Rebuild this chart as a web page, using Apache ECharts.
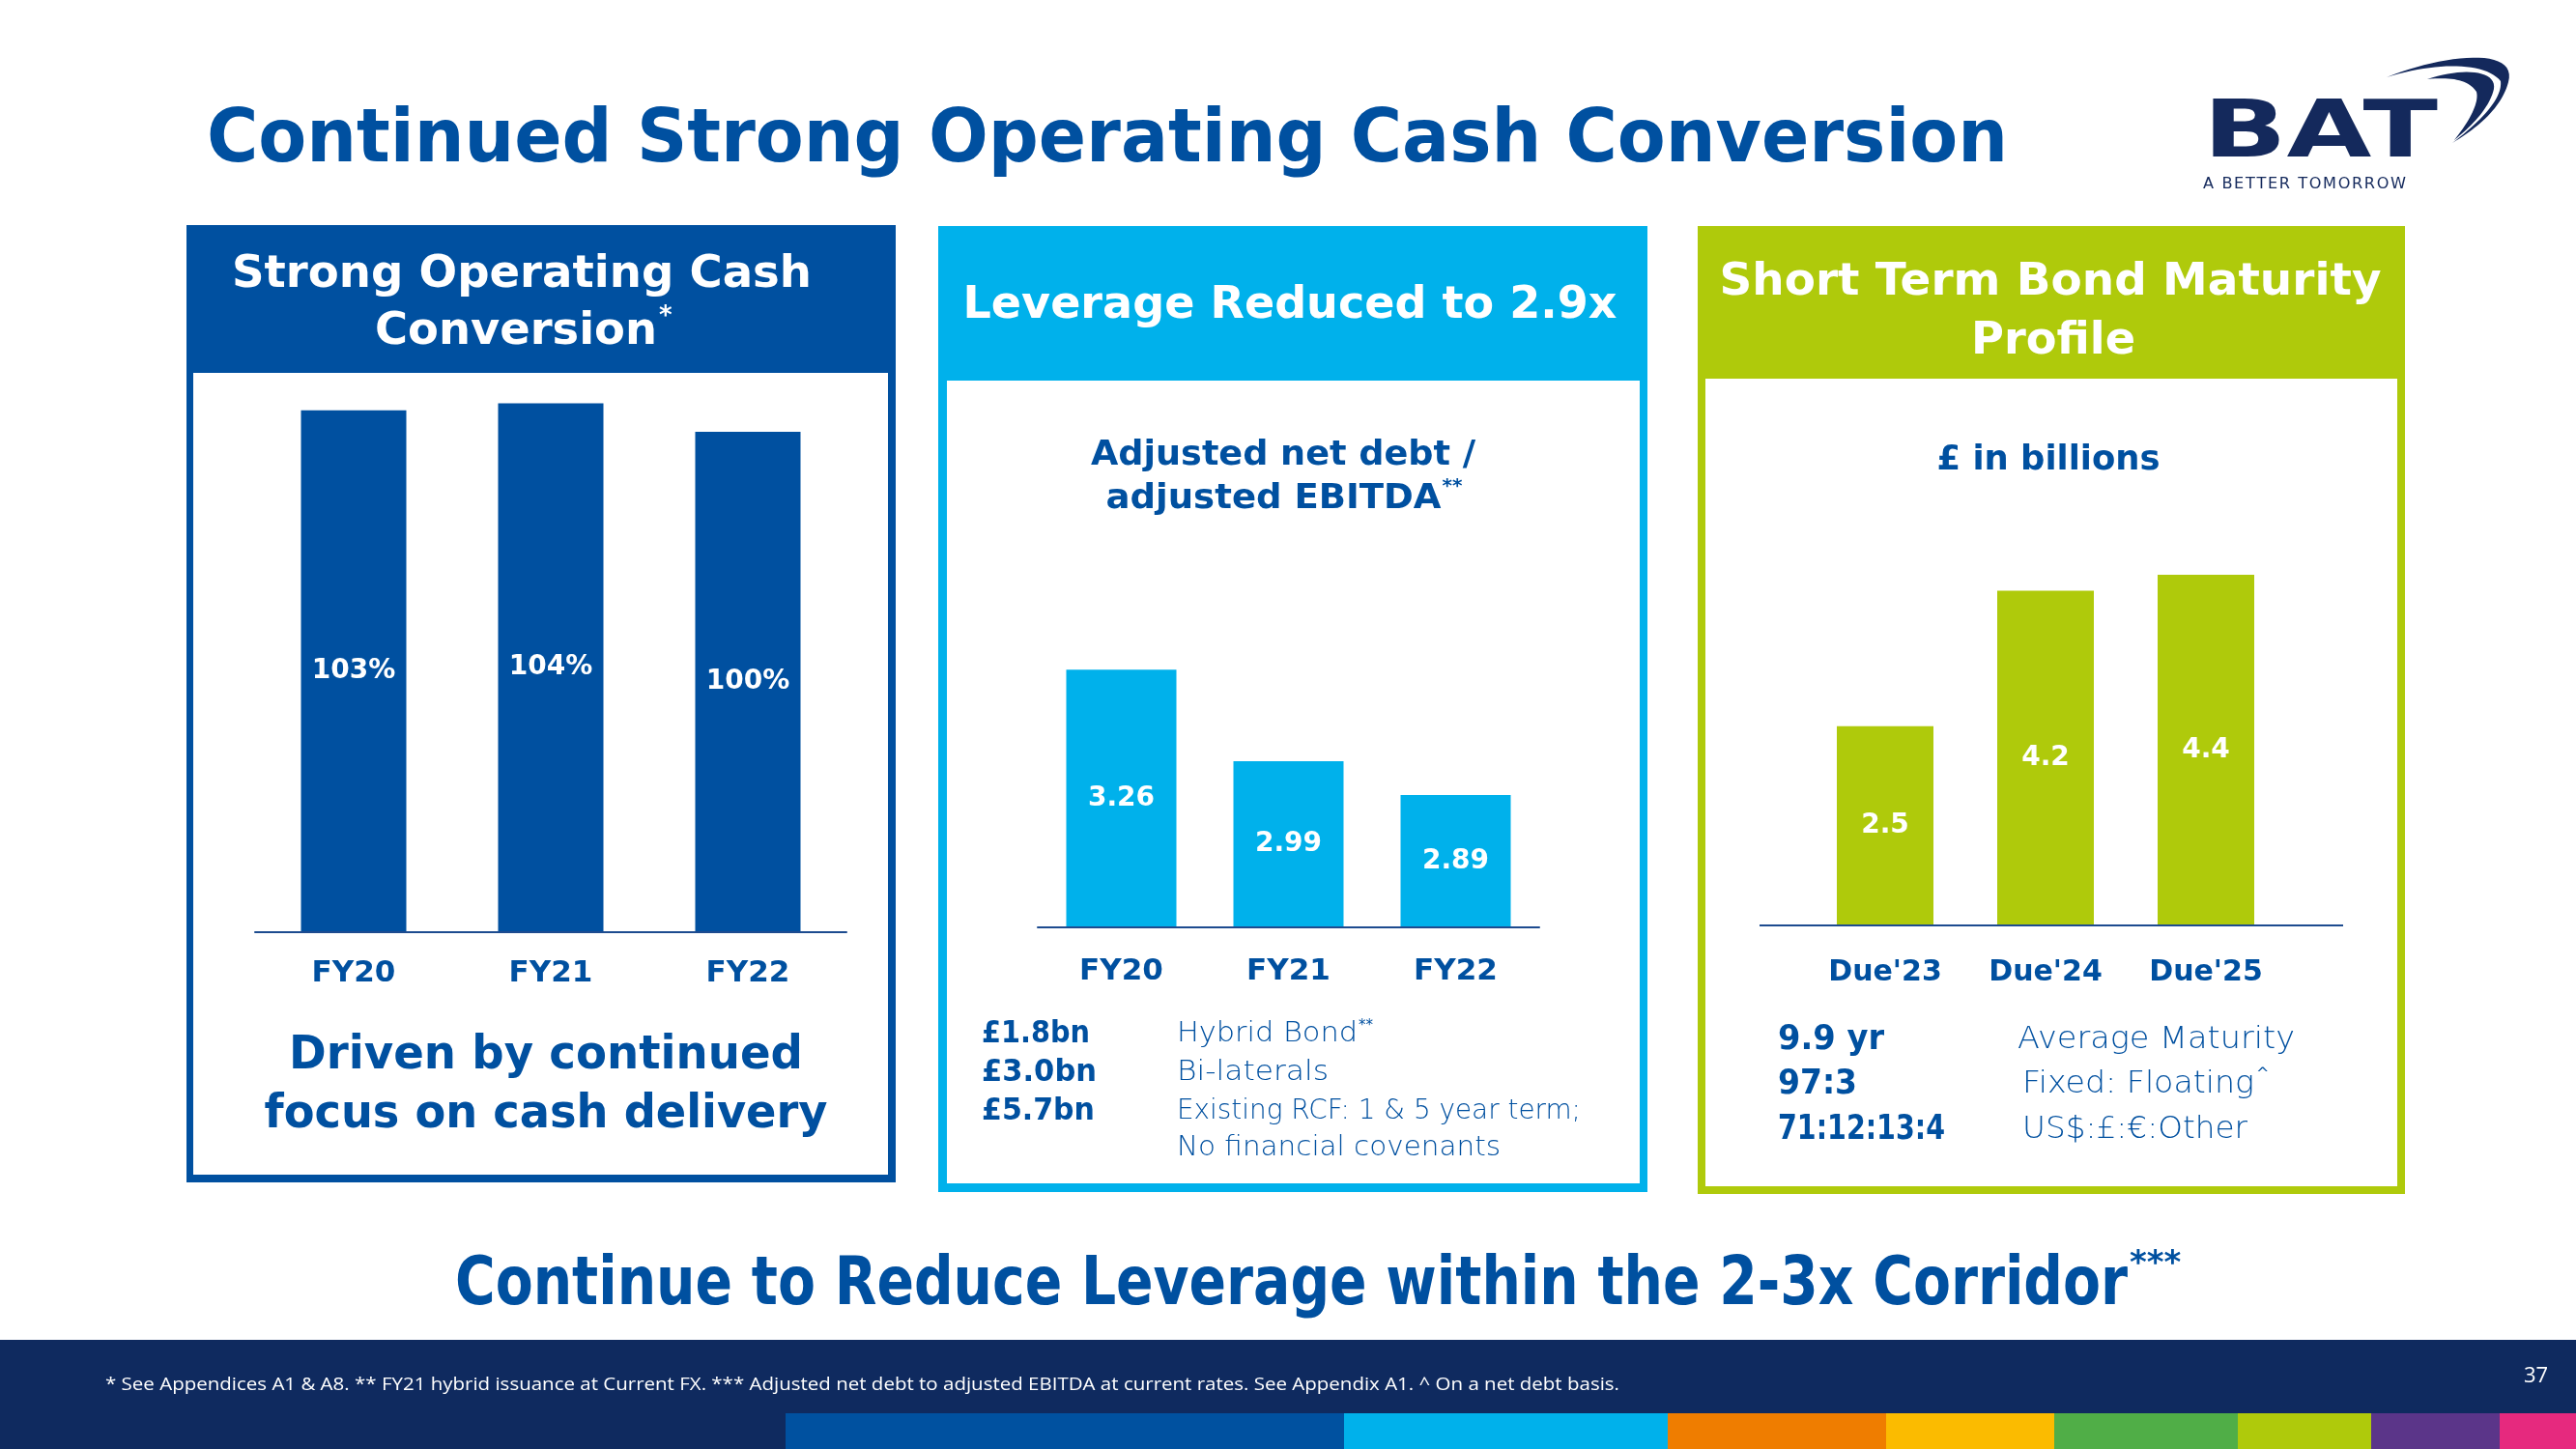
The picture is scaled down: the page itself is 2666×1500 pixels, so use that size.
<!DOCTYPE html>
<html><head><meta charset="utf-8">
<script src="https://cdn.jsdelivr.net/npm/echarts@6/dist/echarts.min.js"></script>
<style>html,body{margin:0;padding:0;background:#fff}#c{width:2666px;height:1500px}</style>
</head><body><div id="c"></div>
<script>
// ---------------- data ----------------
const cashCategories = ['FY20', 'FY21', 'FY22'];
const cashConversion = [103, 104, 100];
const leverageCategories = ['FY20', 'FY21', 'FY22'];
const leverageValues = [3.26, 2.99, 2.89];
const bondCategories = ["Due'23", "Due'24", "Due'25"];
const bondValues = [2.5, 4.2, 4.4];
const facilityAmounts = ['£1.8bn', '£3.0bn', '£5.7bn'];
const facilityNames = ['Hybrid Bond', 'Bi-laterals', 'Existing RCF: 1 & 5 year term;', 'No financial covenants'];
const maturityStats = ['9.9 yr', '97:3', '71:12:13:4'];
const maturityLabels = ['Average Maturity', 'Fixed: Floating', 'US$:£:€:Other'];
const bandColors = ['#0051a0', '#00b1eb', '#ef7d00', '#fbbb00', '#50ae47', '#afca0b', '#5b3589', '#e6297e'];

// ---------------- styling ----------------
const BLUE = '#0050a0', CYAN = '#00b1eb', LIME = '#afca0b', NAVY = '#0f2a5f', AXIS = '#1d4b8f', LOGO = '#14295c';
const FAM = 'DejaVu Sans';
const DY = 4; // vertical nudge for middle-aligned text

const mctx = document.createElement('canvas').getContext('2d');
function txt(o) {
  const fam = o.family || FAM, weight = o.weight || 'normal';
  const font = weight + ' ' + o.size + 'px "' + fam + '"';
  mctx.font = font;
  const mw = mctx.measureText(o.text).width;
  const sx = o.w ? o.w / mw : 1;
  const align = o.align || 'left';
  const realW = mw * sx;
  let left = o.x;
  if (align === 'center') left = o.x - realW / 2;
  if (align === 'right') left = o.x - realW;
  const el = {
    type: 'text', x: o.x, y: o.y + DY, scaleX: sx, z: 20,
    style: {
      text: o.text, x: 0, y: 0, fill: o.color || BLUE, font: font,
      fontSize: o.size, fontWeight: weight, fontFamily: fam,
      align: align, verticalAlign: 'middle', textAlign: align, textVerticalAlign: 'middle'
    }
  };
  return { el: el, left: left, right: left + realW };
}
const G = [];
function add(o) { const r = txt(o); G.push(r.el); return r; }
function sup(text, x, y, size, color, weight) {
  add({ text: text, x: x, y: y, size: size, color: color, weight: weight || 'bold' });
}

// panels
function panel(x, y, w, h, ix, iy, iw, ih, color) {
  G.push({ type: 'rect', z: 0, shape: { x: x, y: y, width: w, height: h }, style: { fill: color } });
  G.push({ type: 'rect', z: 1, shape: { x: ix, y: iy, width: iw, height: ih }, style: { fill: '#ffffff' } });
}
panel(193, 233, 734, 991, 200, 386, 719, 830, BLUE);
panel(971, 234, 734, 1000, 980, 394, 717, 831, CYAN);
panel(1757, 234, 732, 1002, 1765, 392, 716, 836, LIME);

// footer
G.push({ type: 'rect', z: 0, shape: { x: 0, y: 1387, width: 2666, height: 113 }, style: { fill: NAVY } });
const bandX = [813, 1391, 1726, 1952, 2126, 2316, 2454, 2587, 2666];
bandColors.forEach((c, i) => {
  G.push({ type: 'rect', z: 1, shape: { x: bandX[i], y: 1463, width: bandX[i + 1] - bandX[i], height: 37 }, style: { fill: c } });
});

// title
add({ text: 'Continued Strong Operating Cash Conversion', x: 214, y: 143, size: 76, weight: 'bold', w: 1864 });

// logo
add({ text: 'BAT', x: 2280, y: 137, size: 82, weight: 'bold', color: LOGO, w: 243 });
add({ text: 'A BETTER TOMORROW'.split('').join('\u200A'), x: 2280, y: 187, size: 15, color: LOGO, w: 210 });
function cubic(p0, p1, p2, p3, n) {
  const pts = [];
  for (let i = 0; i <= n; i++) {
    const t = i / n, u = 1 - t;
    pts.push([u*u*u*p0[0] + 3*u*u*t*p1[0] + 3*u*t*t*p2[0] + t*t*t*p3[0],
              u*u*u*p0[1] + 3*u*u*t*p1[1] + 3*u*t*t*p2[1] + t*t*t*p3[1]]);
  }
  return pts;
}
const swA = [].concat(
  cubic([2470, 80], [2530, 56], [2606, 48], [2596, 85], 24),
  cubic([2596, 85], [2589, 111], [2566, 131], [2538, 148], 24),
  cubic([2538, 148], [2572, 122], [2590, 100], [2588, 84], 24),
  cubic([2588, 84], [2572, 64], [2522, 64], [2470, 80], 24)
);
G.push({ type: 'polygon', z: 5, shape: { points: swA }, style: { fill: LOGO } });
const swB = [].concat(
  cubic([2512, 82], [2548, 70], [2584, 72], [2581, 92], 20),
  cubic([2581, 92], [2577, 110], [2561, 128], [2540, 145], 20),
  cubic([2540, 145], [2556, 125], [2566, 106], [2563, 95], 20),
  cubic([2563, 95], [2556, 84], [2540, 79], [2512, 82], 20)
);
G.push({ type: 'polygon', z: 5, shape: { points: swB }, style: { fill: LOGO } });

// panel headers
add({ text: 'Strong Operating Cash', x: 540, y: 281, size: 46, weight: 'bold', color: '#fff', align: 'center', w: 600 });
const conv = add({ text: 'Conversion', x: 534, y: 340, size: 46, weight: 'bold', color: '#fff', align: 'center', w: 292 });
sup('*', conv.right + 2, 324, 26, '#fff');
add({ text: 'Leverage Reduced to 2.9x', x: 1335, y: 313, size: 46, weight: 'bold', color: '#fff', align: 'center', w: 677 });
add({ text: 'Short Term Bond Maturity', x: 2122, y: 289, size: 46, weight: 'bold', color: '#fff', align: 'center', w: 685 });
add({ text: 'Profile', x: 2125, y: 350, size: 46, weight: 'bold', color: '#fff', align: 'center', w: 170 });

// subtitles
add({ text: 'Adjusted net debt /', x: 1328, y: 468, size: 36, weight: 'bold', align: 'center', w: 398 });
const ebit = add({ text: 'adjusted EBITDA', x: 1318, y: 513, size: 36, weight: 'bold', align: 'center', w: 347 });
sup('**', ebit.right + 1, 500, 20, BLUE);
add({ text: '£ in billions', x: 2120, y: 473, size: 36, weight: 'bold', align: 'center', w: 231 });

// panel 1 bottom
add({ text: 'Driven by continued', x: 565, y: 1090, size: 48, weight: 'bold', align: 'center', w: 532 });
add({ text: 'focus on cash delivery', x: 565, y: 1151, size: 48, weight: 'bold', align: 'center', w: 583 });

// panel 2 list
const p2y = [1067, 1107, 1147, 1185];
facilityAmounts.forEach((t, i) => add({ text: t, x: 1016, y: p2y[i], size: 32, weight: 'bold', w: [112, 119, 117][i] }));
facilityNames.forEach((t, i) => {
  const r = add({ text: t, x: 1218, y: p2y[i], size: 28, weight: '300', w: [187, 157, 418, 335][i] });
  if (i === 0) sup('**', r.right + 1, 1058, 15, BLUE, 'normal');
});

// panel 3 list
const p3y = [1073, 1119, 1166];
maturityStats.forEach((t, i) => add({ text: t, x: 1840, y: p3y[i], size: 36, weight: 'bold', w: [110, 82, 173][i] }));
maturityLabels.forEach((t, i) => {
  const r = add({ text: t, x: [2088, 2093, 2093][i], y: p3y[i], size: 32, weight: '300', w: [287, 240, 233][i] });
  if (i === 1) sup('^', r.right + 2, 1108, 16, BLUE, 'normal');
});

// bottom headline
const cor = add({ text: 'Continue to Reduce Leverage within the 2-3x Corridor', x: 471, y: 1328, size: 70, weight: 'bold', w: 1731 });
sup('***', cor.right + 2, 1305, 34, BLUE);

// footnote
add({ text: '* See Appendices A1 & A8. ** FY21 hybrid issuance at Current FX. *** Adjusted net debt to adjusted EBITDA at current rates. See Appendix A1. ^ On a net debt basis.',
      x: 109, y: 1430, size: 19, family: 'Open Sans', color: '#ffffff', w: 1567 });
add({ text: '37', x: 2612, y: 1421, size: 22, family: 'Open Sans', color: '#ffffff' });

// panel 3 baseline
G.push({ type: 'line', z: 10, shape: { x1: 1821, y1: 958, x2: 2425, y2: 958 }, style: { stroke: AXIS, lineWidth: 2 } });

// ---------------- chart ----------------
const catLabel = (size, margin) => ({ color: BLUE, fontFamily: FAM, fontWeight: 'bold', fontSize: size, margin: margin });
const valLabel = (fmt) => ({ show: true, position: 'inside', color: '#ffffff', fontFamily: FAM, fontWeight: 'bold', fontSize: 28, formatter: fmt });

const option = {
  animation: false,
  backgroundColor: '#ffffff',
  grid: [
    { left: 264, top: 373, width: 612, height: 592, outerBoundsMode: 'none', containLabel: false },
    { left: 1074, top: 609, width: 519, height: 351, outerBoundsMode: 'none', containLabel: false },
    { left: 1868, top: 463, width: 498, height: 495, outerBoundsMode: 'none', containLabel: false }
  ],
  xAxis: [
    { gridIndex: 0, z: 12, type: 'category', data: cashCategories, axisTick: { show: false }, axisLine: { show: true, lineStyle: { color: AXIS, width: 2 } }, axisLabel: catLabel(31, 27) },
    { gridIndex: 1, z: 12, type: 'category', data: leverageCategories, axisTick: { show: false }, axisLine: { show: true, lineStyle: { color: AXIS, width: 2 } }, axisLabel: catLabel(31, 30) },
    { gridIndex: 2, z: 12, type: 'category', data: bondCategories, axisTick: { show: false }, axisLine: { show: false }, axisLabel: catLabel(30, 34) }
  ],
  yAxis: [
    { gridIndex: 0, type: 'value', min: 30, max: 110, show: false },
    { gridIndex: 1, type: 'value', min: 2.5, max: 3.5, show: false },
    { gridIndex: 2, type: 'value', min: 0, max: 6, show: false }
  ],
  series: [
    { type: 'bar', xAxisIndex: 0, yAxisIndex: 0, data: cashConversion, barWidth: 109, itemStyle: { color: BLUE }, label: valLabel('{c}%'), z: 3 },
    { type: 'bar', xAxisIndex: 1, yAxisIndex: 1, data: leverageValues, barWidth: 114, itemStyle: { color: CYAN }, label: valLabel(p => p.value.toFixed(2)), z: 3 },
    { type: 'bar', xAxisIndex: 2, yAxisIndex: 2, data: bondValues, barWidth: 100, itemStyle: { color: LIME }, label: valLabel(p => p.value.toFixed(1)), z: 3 }
  ],
  graphic: { elements: G }
};
const chart = echarts.init(document.getElementById('c'), null, { renderer: 'canvas' });
chart.setOption(option);
</script>
</body></html>
